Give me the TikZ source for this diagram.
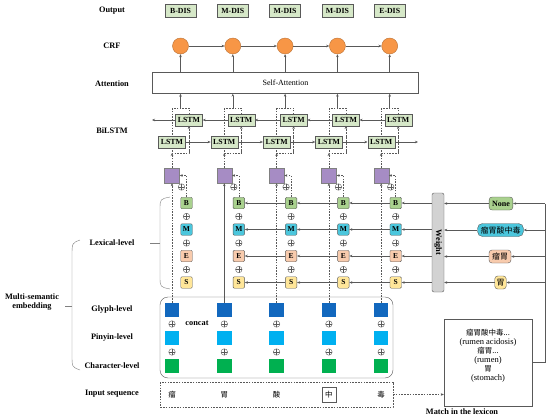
\documentclass[tikz,border=0pt]{standalone}
\usepackage{fontspec}
\setmainfont{Liberation Serif}
\newfontfamily\cjk{Noto Sans CJK SC}
\usetikzlibrary{arrows.meta,positioning}

\definecolor{lstmgreen}{RGB}{214,232,200}
\definecolor{bgreen}{RGB}{169,209,142}
\definecolor{mcyan}{RGB}{75,198,220}
\definecolor{epeach}{RGB}{248,203,173}
\definecolor{syellow}{RGB}{255,230,153}
\definecolor{crforange}{RGB}{247,150,70}
\definecolor{fusepurple}{RGB}{166,140,196}
\definecolor{glyphblue}{RGB}{18,104,190}
\definecolor{pinyinblue}{RGB}{0,176,240}
\definecolor{chargreen}{RGB}{0,176,80}

\begin{document}
\begin{tikzpicture}[
  x=1pt,y=-1pt,
  >={Stealth[length=3pt,width=2.5pt]},
  font=\fontsize{8}{9}\selectfont,
  lbl/.style={font=\fontsize{8.3}{9}\selectfont\bfseries},
  tagbox/.style={draw=gray!70!black,fill=lstmgreen,minimum width=31pt,minimum height=13pt,inner sep=0pt,font=\fontsize{7.8}{9}\selectfont\bfseries},
  lstm/.style={tagbox,minimum width=27pt,minimum height=11.5pt},
  crf/.style={circle,draw=crforange!75!black,fill=crforange,minimum size=16pt,inner sep=0pt},
  lexbox/.style={draw=gray!70!black,minimum size=11.5pt,inner sep=0pt,rounded corners=1.2pt,font=\fontsize{7.5}{8}\selectfont\bfseries},
  cand/.style={lexbox,inner xsep=3pt,minimum height=13pt,rounded corners=3pt,font=\fontsize{8}{9}\selectfont\bfseries},
  embbox/.style={minimum size=14.5pt,inner sep=0pt},
  charbox/.style={minimum width=14pt,minimum height=15pt,inner sep=0pt,font=\cjk\fontsize{7.5}{8}\selectfont},
  plus/.style={circle,draw=gray!70!black,line width=0.4pt,minimum size=6.5pt,inner sep=0pt,
    path picture={\draw[gray!70!black,line width=0.4pt]
      (path picture bounding box.north) -- (path picture bounding box.south)
      (path picture bounding box.west) -- (path picture bounding box.east);}},
  link/.style={gray!70!black,line width=0.45pt},
  guide/.style={gray!70!black,line width=0.45pt,dash pattern=on 1.6pt off 1.2pt},
]
  \useasboundingbox (0,0) rectangle (550,418);

  % row labels
  \node[lbl] (lout) at (112,11) {Output};
  \node[lbl] (lcrf) at (112,46) {CRF};
  \node[lbl] (latt) at (112,84) {Attention};
  \node[lbl] (lbi) at (112,131) {BiLSTM};
  \node[lbl] (llex) at (112,243) {Lexical-level};
  \node[lbl] (lgly) at (112,310) {Glyph-level};
  \node[lbl] (lpin) at (112,338) {Pinyin-level};
  \node[lbl] (lchr) at (112,366) {Character-level};
  \node[lbl] (lin) at (112,394) {Input sequence};
  \node[lbl,align=center] (lmulti) at (32,302) {Multi-semantic\\embedding};

  % braces
  \draw[gray] (170,197) .. controls (160,199) .. (160,210) -- (160,276)
    .. controls (160,287) .. (170,289);
  \coordinate (lexbrace) at (160,243);
  \draw[gray] (lexbrace) -- ++(-10,0);
  \draw[gray] (80,240) .. controls (72,243) .. (72,256) -- (72,355)
    .. controls (72,367) .. (80,370);
  \coordinate (multibrace) at (72,306);
  \draw[gray] (multibrace) -- ++(-7,0);

  % attention
  \node[draw=gray!70!black,minimum width=266pt,minimum height=21pt] (att) at (285.5,83) {Self-Attention};

  % embedding frames
  \draw[gray!70!black,rounded corners=8pt] (160,297) rectangle (393,378);
  \draw[guide] (160,382) rectangle (393,407);
  \coordinate (inseq) at (393,394.5);
  \node[lbl] (concat) at (197,323.5) {concat};

  % columns
  \foreach \i/\tag/\ch in {1/B-DIS/瘤,2/M-DIS/胃,3/M-DIS/酸,4/M-DIS/中,5/E-DIS/毒} {
    \pgfmathsetmacro\c{172+(\i-1)*52.3}
    \node[tagbox] (out\i) at (\c+8.5,11) {\tag};
    \node[crf] (crf\i) at (\c+8.5,46) {};
    \draw[guide] (\c,108) rectangle (\c+17,153);
    \coordinate (bitop\i) at (\c+8.5,108);
    \coordinate (bibot\i) at (\c,153);
    \coordinate (biright\i) at (\c+17,153);
    \node[lstm] (lstmb\i) at (\c+17,120) {LSTM};
    \node[lstm] (lstmf\i) at (\c,142) {LSTM};
    \node[draw=gray,fill=fusepurple,minimum size=15pt,inner sep=0pt] (fuse\i) at (\c,175.5) {};
    \node[plus] (pf\i) at (\c+9.5,187) {};
    \foreach \r/\col/\y in {B/bgreen/203,M/mcyan/229.5,E/epeach/256,S/syellow/282.5}
      \node[lexbox,fill=\col] (\r\i) at (\c+14.5,\y) {\r};
    \foreach \y in {216.5,243,269.5}
      \node[plus] at (\c+14.5,\y) {};
    \node[embbox,fill=glyphblue] (glyph\i) at (\c,310) {};
    \node[plus] (pg\i) at (\c,324) {};
    \node[embbox,fill=pinyinblue] (pinyin\i) at (\c,338) {};
    \node[plus] (pp\i) at (\c,352) {};
    \node[embbox,fill=chargreen] (char\i) at (\c,366) {};
    \ifnum\i=4
      \node[charbox,draw=gray!70!black] (in\i) at (\c,394.5) {\ch};
      \else
      \node[charbox,guide,text=black] (in\i) at (\c,394.5) {\ch};
    \fi
    % connectors
    \ifnum\i=2 \def\vsty{link}\else\def\vsty{guide}\fi
    \draw[\vsty,->] (glyph\i) -- (fuse\i);
    \draw[guide,->] (B\i.north) |- (fuse\i.east);
    \draw[guide,->] (fuse\i) -- (bibot\i);
    \draw[guide,->] (biright\i) -- (lstmb\i.south);
    \draw[link,->] (bitop\i) -- (bitop\i |- att.south);
    \draw[link,->] (att.north -| crf\i) -- (crf\i.south);
  }

  \foreach \i [evaluate=\i as \j using int(\i+1)] in {1,...,4} {
    \draw[link,->] (crf\i) -- (crf\j);
    \draw[link,->] (lstmf\i) -- (lstmf\j);
    \draw[link,->] (lstmb\j) -- (lstmb\i);
  }
  \coordinate (bwend) at (152,120);
  \coordinate (fwend) at (418,142);
  \draw[link,->] (lstmb1) -- (bwend);
  \draw[link,->] (lstmf5) -- (fwend);

  % lexicon matching
  \node[draw=gray!70!black,minimum width=88pt,minimum height=87pt] (lexicon) at (488,362.5) {};
  \node[align=center,font=\fontsize{8.5}{9}\selectfont] (lextext) at (488,356)
    {{\cjk\fontsize{7.5}{9}\selectfont 瘤胃酸中毒...}\\(rumen acidosis)\\{\cjk\fontsize{7.5}{9}\selectfont 瘤胃...}\\(rumen)\\{\cjk\fontsize{7.5}{9}\selectfont 胃}\\(stomach)};
  \node[lbl] (lmatch) at (462,412) {Match in the lexicon};
  \draw[guide,->] (inseq) -- (inseq -| lexicon.west);

  \node[draw=gray!70!black,fill=gray!35,rounded corners=2pt,minimum width=12pt,minimum height=99pt,inner sep=0pt] (weight) at (438,242.5) {};
  \node[lbl,rotate=-90] (weighttxt) at (weight) {Weight};

  \node[cand,fill=bgreen] (none) at (501,203.5) {None};
  \node[cand,fill=mcyan,rounded corners=5pt,font=\cjk\fontsize{8}{9}\selectfont] (cand1) at (500.5,230) {瘤胃酸中毒};
  \node[cand,fill=epeach,font=\cjk\fontsize{8}{9}\selectfont] (cand2) at (500,256.5) {瘤胃};
  \node[cand,fill=syellow,inner xsep=1.5pt,font=\cjk\fontsize{8}{9}\selectfont] (cand3) at (500.5,282.5) {胃};

  \coordinate (rail) at (545,203.5);
  \draw[link] (lexicon.east |- 0,362) -| (rail);
  \foreach \k in {none,cand1,cand2,cand3} {
    \draw[link,->] (rail |- \k) -- (\k.east);
    \draw[link,->] (\k.west) -- (\k -| weight.east);
  }

  \foreach \r in {B,M,E,S} {
    \draw[link,->] (\r5 -| weight.west) -- (\r5.east);
    \foreach \i [evaluate=\i as \j using int(\i+1)] in {2,...,4}
      \draw[link,->] (\r\j.west) -- (\r\i.east);
  }
\end{tikzpicture}
\end{document}
